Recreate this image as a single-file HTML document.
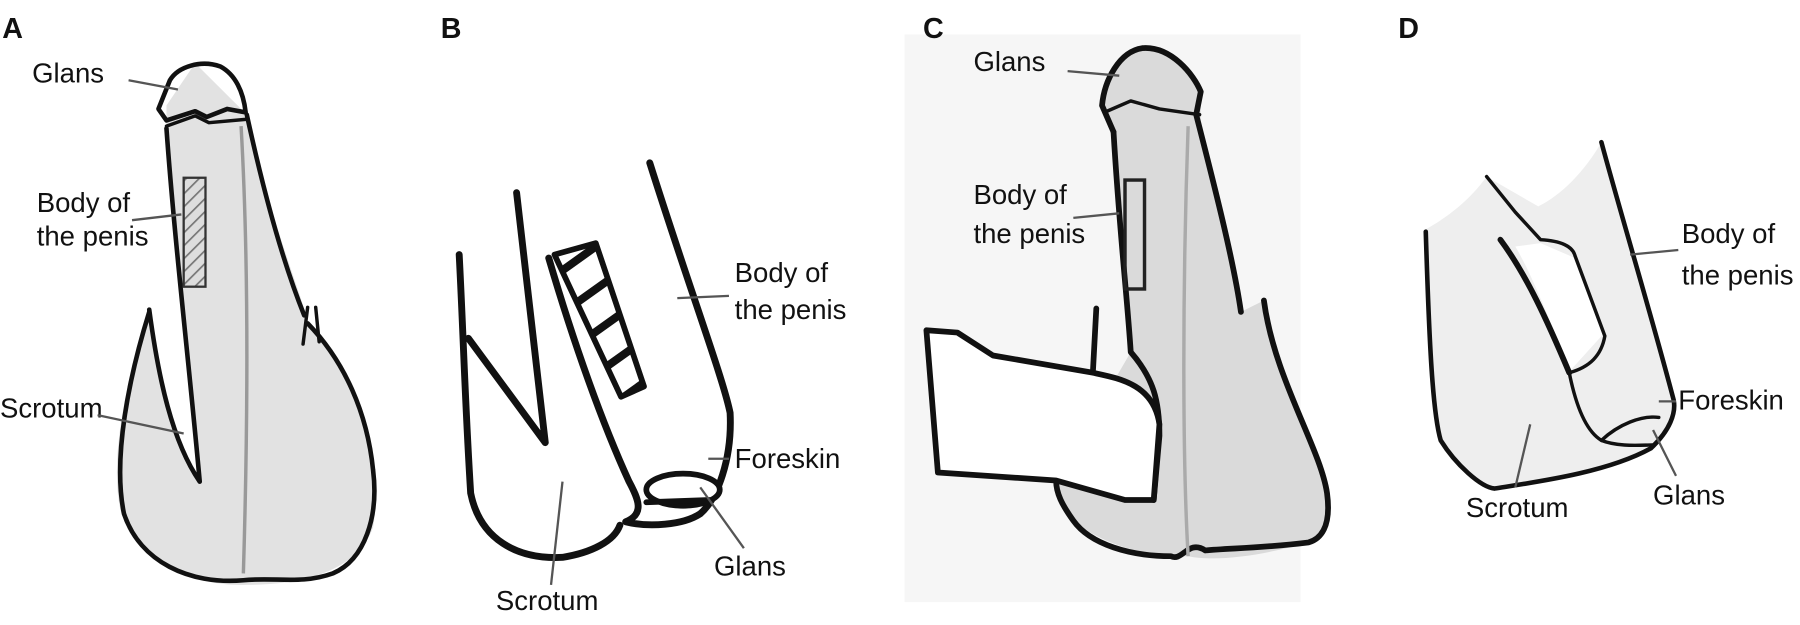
<!DOCTYPE html>
<html><head><meta charset="utf-8"><style>
html,body{margin:0;padding:0;background:#fff;}
svg{display:block}
text{font-family:"Liberation Sans",sans-serif;font-size:24px;fill:#111}
.lab{font-weight:bold;font-size:25px}
.k{fill:none;stroke:#111;stroke-linecap:round;stroke-linejoin:round}
.ld{stroke:#555;stroke-width:2;fill:none}
</style></head><body>
<svg width="1800" height="625" viewBox="0 0 1568 545" preserveAspectRatio="none" xmlns="http://www.w3.org/2000/svg">
<defs>
<pattern id="h" width="8" height="8" patternUnits="userSpaceOnUse" patternTransform="rotate(45)"><rect width="8" height="8" fill="#ddd"/><line x1="0" y1="0" x2="0" y2="8" stroke="#777" stroke-width="3"/></pattern>
<clipPath id="hc"><polygon points="483,222 519,212 561,337 541,346"/></clipPath>
</defs>
<!-- Panel A -->
<text class="lab" x="2" y="33">A</text>
<path d="M130,270 C110,330 95,400 105,445 C120,490 170,512 215,510 C260,510 310,500 325,460 C335,400 310,330 268,280 L262,260 C245,210 228,160 215,100 L170,55 L145,92 L145,110 C150,200 165,300 172,420 C150,380 138,320 130,270 Z" fill="#e2e2e2"/>
<path class="k" stroke-width="4" d="M145,112 C152,210 165,320 174,420 C150,385 138,330 130,270"/>
<path class="k" stroke-width="4" d="M130,272 C112,330 98,400 108,448 C122,490 165,510 212,506 C240,503 262,510 290,500 C318,488 330,450 325,410 C320,360 300,315 268,282"/>
<path class="k" stroke-width="4" d="M215,100 C228,160 245,225 265,275"/>
<path class="k" stroke-width="4" d="M145,105 L138,95 L148,70 C155,58 175,52 192,58 C205,65 212,80 214,98 L198,95 L180,102 L170,97 L145,105 Z"/>
<path class="k" stroke-width="3" d="M145,110 L170,101 L182,107 L215,104"/>
<rect x="160" y="155" width="19" height="95" fill="url(#h)" stroke="#333" stroke-width="2"/>
<path d="M268,268 L264,300 M275,268 L278,298" class="k" stroke-width="3"/>
<path d="M210,110 C218,250 215,400 212,500" stroke="#999" stroke-width="3" fill="none"/>
<text x="28" y="72">Glans</text>
<path class="ld" d="M112,70 L155,78"/>
<text x="32" y="185">Body of</text>
<text x="32" y="214">the penis</text>
<path class="ld" d="M115,192 L158,187"/>
<text x="0" y="364">Scrotum</text>
<path class="ld" d="M85,362 L160,378"/>
<!-- Panel B -->
<text class="lab" x="384" y="33">B</text>
<path class="k" stroke-width="6" d="M400,222 C404,300 405,350 410,430 C418,470 450,488 490,486 C515,482 535,472 540,458"/>
<path class="k" stroke-width="6" d="M408,295 L475,386 L450,168"/>
<path class="k" stroke-width="6" d="M478,225 C500,300 525,370 548,420 C556,435 562,448 545,455 C565,460 595,458 610,448 C625,435 638,400 636,360 C630,330 600,250 566,142"/>
<g clip-path="url(#hc)" stroke="#111" stroke-width="7">
<line x1="470" y1="250" x2="540" y2="200"/>
<line x1="480" y1="280" x2="550" y2="230"/>
<line x1="490" y1="310" x2="560" y2="260"/>
<line x1="500" y1="340" x2="570" y2="290"/>
<line x1="510" y1="370" x2="580" y2="320"/>
</g>
<polygon points="483,222 519,212 561,337 541,346" fill="none" stroke="#111" stroke-width="5" stroke-linejoin="round"/>
<ellipse cx="595" cy="427" rx="32" ry="14" fill="#fff" stroke="#111" stroke-width="5"/>
<path class="k" stroke-width="5" d="M563,438 L618,436"/>
<text x="640" y="246">Body of</text>
<text x="640" y="278">the penis</text>
<path class="ld" d="M590,260 L635,258"/>
<text x="640" y="408">Foreskin</text>
<path class="ld" d="M617,400 L635,400"/>
<text x="622" y="502">Glans</text>
<path class="ld" d="M610,425 L648,478"/>
<text x="432" y="532">Scrotum</text>
<path class="ld" d="M490,420 L480,510"/>
<!-- Panel C -->
<rect x="788" y="30" width="345" height="495" fill="#f6f6f6"/>
<text class="lab" x="804" y="33">C</text>
<path d="M960,92 C962,70 975,45 995,42 C1020,40 1040,65 1046,80 L1046,105 C1060,170 1075,230 1081,272 L1101,262 C1110,320 1140,380 1156,419 C1160,450 1150,470 1146,471 C1100,485 1060,490 1035,485 C1000,486 960,475 935,454 C920,430 920,420 920,419 L985,307 C978,250 972,180 970,115 Z" fill="#dadada"/>
<path class="k" stroke-width="5" d="M970,115 L960,92 C962,70 975,45 995,42 C1020,40 1040,65 1046,80 L1042,100 C1060,170 1075,230 1081,272"/>
<path class="k" stroke-width="3" d="M962,98 L985,88 L1010,95 L1045,100"/>
<path class="k" stroke-width="5" d="M970,115 C975,200 982,260 985,307 C1005,330 1010,350 1010,380 L1005,436"/>
<path class="k" stroke-width="5" d="M1101,262 C1110,330 1150,390 1156,430 C1160,460 1150,470 1140,473 C1100,478 1070,478 1050,480 C1035,470 1030,490 1020,485 C985,485 950,475 935,454 C925,440 920,430 920,419"/>
<path d="M1035,110 C1030,250 1030,400 1035,485" stroke="#aaa" stroke-width="3" fill="none"/>
<path d="M807,288 L834,290 L865,310 L952,325 L955,269 L952,325 C975,330 1005,335 1010,370 L1005,436 L980,436 L920,419 L817,412 Z" fill="#fff" stroke="#111" stroke-width="5" stroke-linejoin="round"/>
<rect x="980" y="157" width="17" height="95" fill="none" stroke="#222" stroke-width="3"/>
<text x="848" y="62">Glans</text>
<path class="ld" d="M930,62 L975,66"/>
<text x="848" y="178">Body of</text>
<text x="848" y="212">the penis</text>
<path class="ld" d="M935,190 L975,186"/>
<!-- Panel D -->
<text class="lab" x="1218" y="33">D</text>
<path d="M1242,200 C1245,300 1248,360 1255,384 C1270,410 1290,425 1302,426 C1340,420 1400,410 1438,391 C1455,375 1460,360 1458,349 C1440,280 1410,180 1395,124 C1380,150 1360,170 1340,180 L1295,154 C1280,175 1260,190 1242,200 Z" fill="#eeeeee"/>
<path class="k" stroke-width="4" d="M1242,202 C1245,300 1248,360 1255,384 C1268,405 1290,425 1302,426 C1340,420 1400,412 1438,391 C1455,375 1460,360 1458,349 C1440,280 1410,180 1395,124"/>
<path d="M1342,212 L1372,225 L1396,292 L1368,323 C1350,280 1335,240 1320,215 Z" fill="#fff"/>
<path class="k" stroke-width="3" d="M1295,154 L1320,185 L1342,209 C1360,210 1370,215 1372,223 L1398,293 C1395,310 1385,320 1367,325"/>
<path class="k" stroke-width="5" d="M1307,209 C1330,240 1348,280 1367,325"/>
<path class="k" stroke-width="3" d="M1367,325 C1372,350 1380,375 1395,384 C1410,390 1430,388 1440,388"/>
<path class="k" stroke-width="3" d="M1395,384 C1410,370 1430,362 1445,364"/>
<text x="1465" y="212">Body of</text>
<text x="1465" y="248">the penis</text>
<path class="ld" d="M1420,222 L1462,218"/>
<text x="1462" y="357">Foreskin</text>
<path class="ld" d="M1445,350 L1460,350"/>
<text x="1440" y="440">Glans</text>
<path class="ld" d="M1440,375 L1460,415"/>
<text x="1277" y="451">Scrotum</text>
<path class="ld" d="M1333,370 L1320,425"/>
</svg>
</body></html>
